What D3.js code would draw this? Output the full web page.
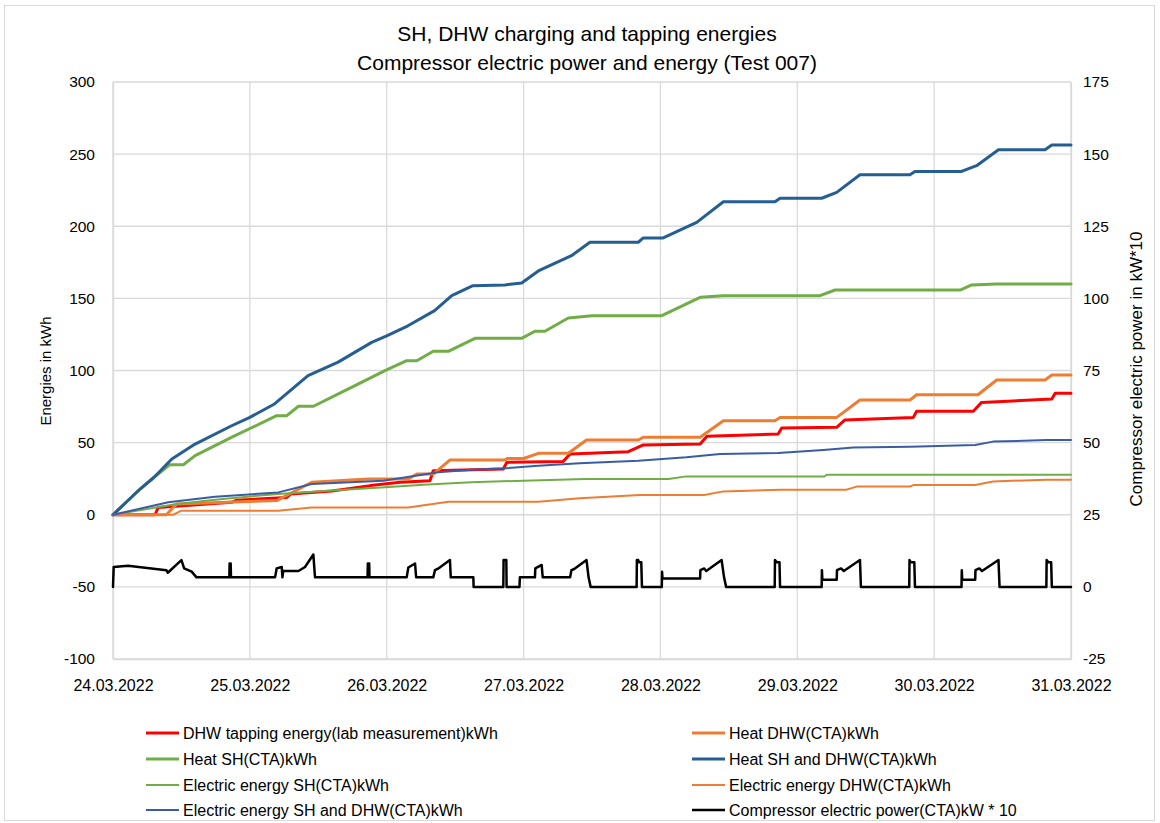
<!DOCTYPE html>
<html><head><meta charset="utf-8">
<script src="https://cdn.jsdelivr.net/npm/d3@7"></script>
<style>
body{margin:0;background:#fff;}
svg{display:block;font-family:"Liberation Sans",Arial,sans-serif;}
</style></head>
<body><svg id="c" width="1160" height="823"></svg>
<script>
// ---- data (day offset from 24.03.2022 00:00, value) ----
const startDate = new Date(2022, 2, 24);
const endDate = new Date(2022, 2, 31);
const leftTicks = [-100, -50, 0, 50, 100, 150, 200, 250, 300];
const rightTicks = [-25, 0, 25, 50, 75, 100, 125, 150, 175];

const dhwTapping = [[0,0],[0.307,0],[0.33,5.1],[0.867,8.6],[0.9,10],[1.27,12],[1.30,14.4],[1.6,16.5],[1.88,20.2],[2.1,22.5],[2.316,23.6],[2.34,30.5],[2.852,31.7],[2.877,36.3],[3.29,37],[3.34,42.1],[3.765,43.7],[3.875,48.4],[4.29,49],[4.34,54.4],[4.86,56],[4.886,60.1],[5.288,60.6],[5.348,65.7],[5.848,67.5],[5.872,71.7],[6.286,71.7],[6.347,77.9],[6.86,80.2],[6.884,84.2],[7,84.2]];
const heatDHW = [[0,0],[0.39,0],[0.465,7.5],[1.196,9.8],[1.452,22.5],[1.866,24.8],[2.158,24.8],[2.22,28.2],[2.34,28.2],[2.463,38],[2.864,38],[2.88,39],[3.0,39],[3.108,42.6],[3.327,42.6],[3.46,51.8],[3.838,51.8],[3.875,53.7],[4.29,53.7],[4.46,65.2],[4.837,65.2],[4.874,67.5],[5.288,67.5],[5.458,79.5],[5.823,79.5],[5.872,83.2],[6.32,83.2],[6.457,93.4],[6.81,93.4],[6.86,96.9],[7,96.9]];
const heatSH = [[0,0],[0.1,9],[0.2,18],[0.3,26],[0.416,34.7],[0.514,34.7],[0.6,41],[0.88,54.3],[1.196,68.7],[1.27,68.7],[1.355,75.2],[1.465,75.2],[1.79,90.6],[1.987,99.9],[2.146,106.8],[2.22,106.8],[2.34,113.3],[2.45,113.3],[2.645,122.3],[2.986,122.3],[3.083,127.2],[3.156,127.2],[3.327,136.4],[3.5,138],[4.01,138],[4.29,150.7],[4.46,151.9],[5.166,151.9],[5.276,155.8],[6.19,155.8],[6.274,159.3],[6.457,160],[7,160]];
const heatSHDHW = [[0,0],[0.1,9],[0.2,18],[0.3,26],[0.43,38.6],[0.6,49],[0.867,61.7],[1.0,67.5],[1.18,76.8],[1.425,96.4],[1.645,105.8],[1.89,119.5],[2.0,124],[2.155,131],[2.35,141.5],[2.475,151.9],[2.63,158.8],[2.864,159.3],[2.986,160.7],[3.108,169],[3.35,179.6],[3.485,188.9],[3.838,188.9],[3.875,191.9],[4.02,191.9],[4.265,202.7],[4.46,217],[4.837,217],[4.874,219.4],[5.178,219.4],[5.288,223.5],[5.458,235.7],[5.823,235.7],[5.86,238],[6.2,238],[6.31,242],[6.47,253],[6.81,253],[6.86,256.3],[7,256.3]];
const elecSH = [[0,0],[0.465,7.5],[0.8,11],[1.208,14.4],[1.6,16.8],[1.987,19],[2.3,21],[2.62,22.5],[3.0,23.6],[3.45,24.8],[4.058,24.8],[4.19,26.6],[5.2,26.6],[5.214,27.8],[7,27.8]];
const elecDHW = [[0,0],[0.44,0],[0.5,2.8],[1.208,2.8],[1.452,5.1],[2.158,5.1],[2.45,9],[3.108,9],[3.41,11.4],[3.85,13.7],[4.32,13.7],[4.46,16.2],[4.874,17.4],[5.36,17.4],[5.434,19.5],[5.823,19.5],[5.848,20.6],[6.3,20.6],[6.43,23.1],[6.822,24.3],[7,24.3]];
const elecSHDHW = [[0,0],[0.404,8.6],[0.745,12.5],[1.208,15.5],[1.452,21.3],[1.975,23.6],[2.377,29.4],[2.62,31.2],[2.864,32.2],[3.108,34],[3.41,35.7],[3.838,37.5],[4.19,39.8],[4.435,42.1],[4.86,42.8],[5.19,44.9],[5.41,46.7],[5.823,47.2],[6.3,48.4],[6.43,50.7],[6.822,51.8],[7,51.8]];
const compressor = [[0,0],[0.005,6.9],[0.11,7.3],[0.39,5.8],[0.40,4.9],[0.50,9.3],[0.52,6.4],[0.575,5.3],[0.61,3.3],[0.85,3.3],[0.852,8.1],[0.86,8.1],[0.862,3.3],[1.184,3.3],[1.196,6.4],[1.233,6.9],[1.238,3.3],[1.244,5.5],[1.355,5.5],[1.403,6.9],[1.464,11.2],[1.476,3.3],[1.86,3.3],[1.862,8.1],[1.872,8.1],[1.874,3.3],[2.146,3.3],[2.158,6.7],[2.207,8.1],[2.215,3.3],[2.34,3.3],[2.353,5.8],[2.375,6.3],[2.462,9.3],[2.468,3.3],[2.633,3.3],[2.635,0],[2.852,0],[2.854,9.3],[2.874,9.3],[2.876,0],[2.97,0],[2.973,3.3],[3.083,3.3],[3.086,6.4],[3.132,7.6],[3.14,3.3],[3.34,3.3],[3.35,5.8],[3.37,6.2],[3.46,9.3],[3.475,3.3],[3.49,0],[3.826,0],[3.828,9.3],[3.838,9.3],[3.843,8.5],[3.86,8.5],[3.865,0],[4.01,0],[4.012,5.2],[4.015,2.9],[4.29,2.9],[4.292,5.8],[4.32,6.4],[4.335,5.5],[4.447,9.3],[4.465,3.3],[4.48,0],[4.835,0],[4.837,9.3],[4.85,8.5],[4.87,8.5],[4.874,0],[5.178,0],[5.18,5.8],[5.183,2.5],[5.288,2.5],[5.29,5.8],[5.32,6.4],[5.34,5.5],[5.458,9.3],[5.465,0],[5.818,0],[5.82,9.3],[5.83,8.5],[5.855,8.5],[5.86,0],[6.2,0],[6.202,5.8],[6.205,2.5],[6.3,2.5],[6.302,5.8],[6.33,6.4],[6.35,5.5],[6.47,9.3],[6.478,0],[6.82,0],[6.822,9.3],[6.835,8.5],[6.855,8.5],[6.86,0],[7,0]];

const seriesNames = ["DHW tapping energy(lab measurement)kWh","Heat DHW(CTA)kWh","Heat SH(CTA)kWh","Heat SH and DHW(CTA)kWh","Electric energy SH(CTA)kWh","Electric energy DHW(CTA)kWh","Electric energy SH and DHW(CTA)kWh","Compressor electric power(CTA)kW * 10"];
const seriesData = [dhwTapping, heatDHW, heatSH, heatSHDHW, elecSH, elecDHW, elecSHDHW, compressor];
const seriesColors = ["#FF0000","#ED7D31","#70AD47","#255E91","#70AD47","#ED7D31","#3A5CA6","#000000"];
const seriesWidths = [3, 3, 3, 3, 2, 2, 2, 2.5];
const seriesAxis = ["L","L","L","L","L","L","L","R"];

// ---- chart ----
const svg = d3.select("#c");
const P = {l:113, r:1071, t:82, b:659};
const dayMs = 86400000;
const x = d3.scaleTime().domain([startDate, endDate]).range([P.l, P.r]);
const yL = d3.scaleLinear().domain([-100, 300]).range([P.b, P.t]);
const yR = d3.scaleLinear().domain([-25, 175]).range([P.b, P.t]);
const toDate = t => new Date(startDate.getTime() + t * dayMs);
const numFmt = d => String(d);

svg.append("rect").attr("x",4.5).attr("y",5.5).attr("width",1150).attr("height",815)
  .attr("fill","#fff").attr("stroke","#d9d9d9");

// gridlines
const days = d3.timeDay.range(startDate, d3.timeDay.offset(endDate,1));
svg.append("g").selectAll("line").data(leftTicks).join("line")
  .attr("x1",P.l).attr("x2",P.r).attr("y1",d=>yL(d)).attr("y2",d=>yL(d))
  .attr("stroke","#d9d9d9").attr("stroke-width",1.3);
svg.append("g").selectAll("line").data(days).join("line")
  .attr("x1",d=>x(d)).attr("x2",d=>x(d)).attr("y1",P.t).attr("y2",P.b)
  .attr("stroke","#d9d9d9").attr("stroke-width",1.3);

// axes (text only, Excel-like)
const fmt = d3.timeFormat("%d.%m.%Y");
const gxa = svg.append("g").attr("transform",`translate(0,${P.b})`)
  .call(d3.axisBottom(x).tickValues(days).tickFormat(fmt).tickSize(0).tickPadding(21));
gxa.select(".domain").attr("stroke","#d9d9d9").attr("stroke-width",1.3);
gxa.selectAll("text").attr("font-size",16).attr("fill","#000").attr("font-family","Liberation Sans, Arial");
const gyl = svg.append("g").attr("transform",`translate(${P.l},0)`)
  .call(d3.axisLeft(yL).tickValues(leftTicks).tickFormat(numFmt).tickSize(0).tickPadding(18));
gyl.select(".domain").attr("stroke","#d9d9d9").attr("stroke-width",1.3);
gyl.selectAll("text").attr("font-size",15.5).attr("fill","#000").attr("font-family","Liberation Sans, Arial");
const gyr = svg.append("g").attr("transform",`translate(${P.r},0)`)
  .call(d3.axisRight(yR).tickValues(rightTicks).tickFormat(numFmt).tickSize(0).tickPadding(12));
gyr.select(".domain").attr("stroke","#d9d9d9").attr("stroke-width",1.3);
gyr.selectAll("text").attr("font-size",15.5).attr("fill","#000").attr("font-family","Liberation Sans, Arial");

// lines
seriesData.forEach((data,i)=>{
  const ys = seriesAxis[i]==="L" ? yL : yR;
  const line = d3.line().x(d=>x(toDate(d[0]))).y(d=>ys(d[1]));
  svg.append("path").datum(data).attr("d",line).attr("fill","none")
    .attr("stroke",seriesColors[i]).attr("stroke-width",seriesWidths[i])
    .attr("stroke-linejoin","round").attr("stroke-linecap","round");
});

// titles
svg.append("text").attr("x",587).attr("y",41).attr("text-anchor","middle")
  .attr("font-size",21).text("SH, DHW charging and tapping energies");
svg.append("text").attr("x",587).attr("y",70).attr("text-anchor","middle")
  .attr("font-size",21).text("Compressor electric power and energy (Test 007)");
svg.append("text").attr("transform","translate(51,371) rotate(-90)").attr("text-anchor","middle")
  .attr("font-size",15).text("Energies in kWh");
svg.append("text").attr("transform","translate(1142,369) rotate(-90)").attr("text-anchor","middle")
  .attr("font-size",17).text("Compressor electric power in kW*10");

// legend
const legX = [146, 692], legY = [733, 759, 785, 810];
seriesNames.forEach((name,i)=>{
  const lx = legX[i%2], ly = legY[Math.floor(i/2)];
  svg.append("line").attr("x1",lx).attr("x2",lx+33).attr("y1",ly).attr("y2",ly)
    .attr("stroke",seriesColors[i]).attr("stroke-width",seriesWidths[i]);
  svg.append("text").attr("x",lx+37).attr("y",ly+5.5).attr("font-size",16).text(name);
});
</script></body></html>
